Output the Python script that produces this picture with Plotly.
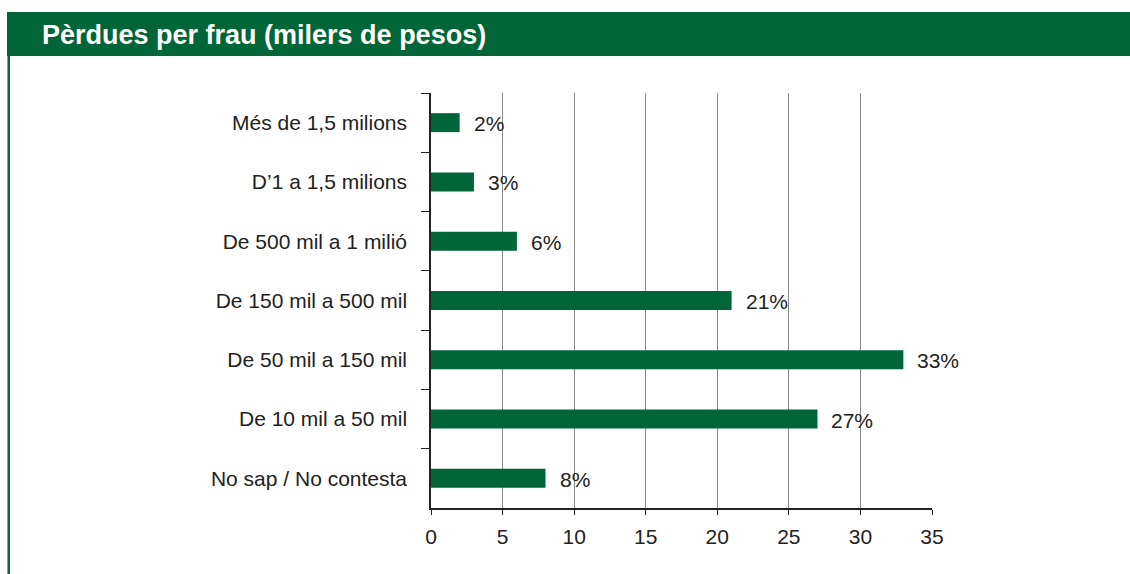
import plotly.graph_objects as go

categories = ["Més de 1,5 milions", "D’1 a 1,5 milions", "De 500 mil a 1 milió",
              "De 150 mil a 500 mil", "De 50 mil a 150 mil", "De 10 mil a 50 mil",
              "No sap / No contesta"]
values = [2, 3, 6, 21, 33, 27, 8]
x_ticks = [0, 5, 10, 15, 20, 25, 30, 35]
title_text = "Pèrdues per frau (milers de pesos)"

GREEN = "#00663A"
FONT = "Liberation Sans, Arial, sans-serif"
TXT = "#222222"

W, H = 1130, 574
L, R, T, B = 431, 932, 93, 508

def px(x):
    return (x - L) / (R - L)

def py(y):
    return (B - y) / (B - T)

fig = go.Figure()
fig.add_trace(go.Bar(
    x=values, y=categories, orientation="h",
    marker=dict(color=GREEN, line=dict(width=0)),
    hoverinfo="skip",
))

for c, v in zip(categories, values):
    fig.add_annotation(x=v, y=c, text=f"{v}%", showarrow=False,
                       xanchor="left", yanchor="middle", xshift=12, yshift=-1,
                       font=dict(family=FONT, size=21, color=TXT))

shapes = [
    dict(type="rect", xref="paper", yref="paper", x0=px(7), x1=px(1131),
         y0=py(56), y1=py(12), fillcolor=GREEN, line=dict(width=0), layer="below"),
    dict(type="line", xref="paper", yref="paper", x0=px(8.7), x1=px(8.7),
         y0=py(56), y1=py(575), line=dict(color=GREEN, width=2.5)),
]

fig.add_annotation(xref="paper", yref="paper", x=px(40), y=py(35),
                   text=f"<b>{title_text}</b>", showarrow=False,
                   xanchor="left", yanchor="middle",
                   font=dict(family=FONT, size=27, color="white"))

fig.update_layout(
    width=W, height=H,
    margin=dict(l=L, r=W - R, t=T, b=H - B, pad=0),
    paper_bgcolor="white", plot_bgcolor="white",
    bargap=0.68,
    showlegend=False,
    shapes=shapes,
    font=dict(family=FONT, size=21, color=TXT),
)
fig.update_xaxes(
    range=[0, 35], tickvals=x_ticks, ticktext=[str(t) for t in x_ticks],
    showgrid=True, gridcolor="#8a8a8a", gridwidth=1,
    zeroline=False, showline=True, linecolor=TXT, linewidth=1.5,
    ticks="outside", ticklen=5, tickcolor=TXT, tickwidth=1,
    ticklabelstandoff=4,
    tickfont=dict(family=FONT, size=21, color=TXT),
    fixedrange=True,
)
fig.update_yaxes(
    categoryorder="array", categoryarray=categories, autorange="reversed",
    showgrid=False, zeroline=False, showline=True, linecolor=TXT, linewidth=1.5,
    ticks="outside", tickson="boundaries", ticklen=8, tickcolor=TXT, tickwidth=1,
    ticklabelstandoff=18,
    tickfont=dict(family=FONT, size=21, color=TXT),
    fixedrange=True,
)

fig.write_html("out.html", config={"displayModeBar": False},
               post_script="document.body.style.margin='0';document.body.style.overflow='hidden';")
